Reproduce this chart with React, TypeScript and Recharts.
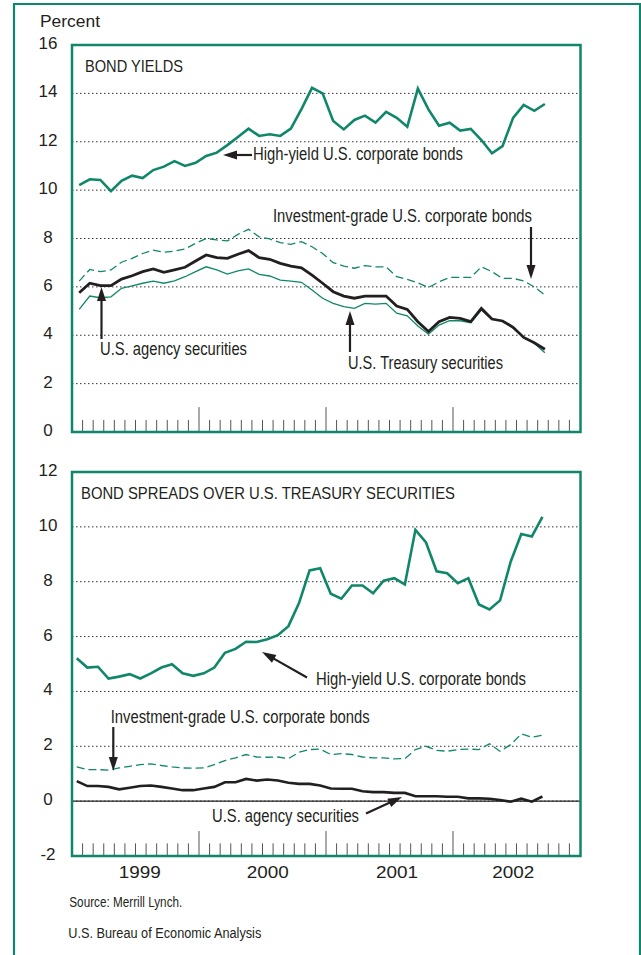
import React from "react";
import { LineChart, Line, XAxis, YAxis, CartesianGrid, ReferenceLine } from "recharts";

const GREEN = "#10876a";
const INK = "#231f20";
const FONT = "'Liberation Sans', Arial, Helvetica, sans-serif";

// Monthly observations, Jan 1999 .. Sep 2002
const monthNames = ["Jan", "Feb", "Mar", "Apr", "May", "Jun", "Jul", "Aug", "Sep", "Oct", "Nov", "Dec"];
const years = [1999, 2000, 2001, 2002];
const months: string[] = years.flatMap((y) => monthNames.map((m) => `${m} ${y}`)).slice(0, 45);

// Panel 1: bond yields (percent)
const hyYield = [10.21, 10.45, 10.42, 9.96, 10.38, 10.6, 10.5, 10.83, 10.97, 11.2, 11.0, 11.13, 11.41, 11.55, 11.86, 12.2, 12.54, 12.24, 12.31, 12.24, 12.54, 13.35, 14.23, 14.0, 12.86, 12.51, 12.9, 13.08, 12.79, 13.24, 12.99, 12.62, 14.2, 13.34, 12.66, 12.79, 12.46, 12.53, 12.07, 11.52, 11.82, 12.99, 13.52, 13.28, 13.56];
const igYield = [6.24, 6.72, 6.63, 6.7, 7.02, 7.18, 7.38, 7.52, 7.43, 7.48, 7.57, 7.8, 8.0, 7.94, 7.9, 8.17, 8.38, 8.07, 7.98, 7.83, 7.76, 7.87, 7.66, 7.38, 7.0, 6.86, 6.77, 6.88, 6.83, 6.83, 6.42, 6.31, 6.17, 5.97, 6.21, 6.39, 6.39, 6.39, 6.83, 6.63, 6.35, 6.35, 6.25, 6.0, 5.66];
const agencyYield = [5.76, 6.15, 6.05, 6.05, 6.32, 6.46, 6.63, 6.74, 6.6, 6.7, 6.81, 7.07, 7.32, 7.21, 7.18, 7.35, 7.5, 7.21, 7.14, 6.97, 6.86, 6.79, 6.49, 6.15, 5.8, 5.62, 5.53, 5.62, 5.62, 5.62, 5.21, 5.07, 4.56, 4.15, 4.56, 4.74, 4.7, 4.56, 5.11, 4.67, 4.59, 4.33, 3.91, 3.69, 3.42];
const treasuryYield = [5.07, 5.62, 5.55, 5.59, 5.94, 6.04, 6.15, 6.24, 6.15, 6.25, 6.42, 6.63, 6.83, 6.7, 6.53, 6.66, 6.74, 6.52, 6.45, 6.28, 6.24, 6.19, 5.87, 5.53, 5.32, 5.18, 5.11, 5.32, 5.29, 5.32, 4.91, 4.8, 4.38, 4.04, 4.42, 4.6, 4.6, 4.52, 5.04, 4.67, 4.59, 4.29, 3.91, 3.67, 3.28];

// Panel 2: spreads over Treasury securities (percentage points)
const hySpread = [5.21, 4.87, 4.9, 4.47, 4.54, 4.63, 4.47, 4.66, 4.87, 4.99, 4.66, 4.57, 4.66, 4.87, 5.41, 5.55, 5.81, 5.8, 5.9, 6.05, 6.38, 7.22, 8.41, 8.49, 7.56, 7.38, 7.86, 7.86, 7.58, 8.04, 8.13, 7.9, 9.89, 9.43, 8.38, 8.31, 7.95, 8.13, 7.17, 6.99, 7.32, 8.73, 9.74, 9.65, 10.36];
const igSpread = [1.25, 1.15, 1.15, 1.13, 1.21, 1.27, 1.33, 1.36, 1.3, 1.25, 1.21, 1.2, 1.21, 1.33, 1.48, 1.58, 1.7, 1.61, 1.6, 1.61, 1.55, 1.78, 1.88, 1.9, 1.7, 1.73, 1.7, 1.61, 1.58, 1.58, 1.54, 1.55, 1.88, 2.0, 1.85, 1.82, 1.88, 1.9, 1.88, 2.09, 1.82, 2.06, 2.45, 2.33, 2.4];
const agencySpread = [0.73, 0.55, 0.55, 0.52, 0.43, 0.49, 0.55, 0.57, 0.52, 0.46, 0.4, 0.4, 0.46, 0.52, 0.69, 0.69, 0.81, 0.75, 0.79, 0.75, 0.67, 0.63, 0.63, 0.57, 0.46, 0.45, 0.45, 0.36, 0.33, 0.33, 0.3, 0.3, 0.18, 0.18, 0.18, 0.16, 0.16, 0.1, 0.1, 0.09, 0.04, -0.02, 0.09, -0.02, 0.17];

const topTicks = [0, 2, 4, 6, 8, 10, 12, 14, 16];
const bottomTicks = [-2, 0, 2, 4, 6, 8, 10, 12];
const yearLabels = ["1999", "2000", "2001", "2002"];
const yearTickPos = [6.4, 18.5, 30.7, 41.7];
const monthTicks = Array.from({ length: 47 }, (_, k) => k + 1);
const majorTicks = [12, 24, 36];

const topData = months.map((m, i) => ({
  x: i + 0.68,
  m,
  hy: hyYield[i],
  ig: igYield[i],
  ag: agencyYield[i],
  ts: treasuryYield[i],
}));
const bottomData = months.map((m, i) => ({
  x: i + 0.45,
  m,
  hy: hySpread[i],
  ig: igSpread[i],
  ag: agencySpread[i],
}));

const yTick = (props: any) => (
  <text x={48} y={props.y} dy={4} textAnchor="middle" fontSize={17} fill={INK} fontFamily={FONT}>
    {props.payload.value}
  </text>
);

const yearTick = (props: any) => {
  const idx = yearTickPos.indexOf(props.payload.value);
  return (
    <text x={props.x} y={props.y + 22} textAnchor="middle" fontSize={17} fill={INK} fontFamily={FONT} textLength={42} lengthAdjust="spacingAndGlyphs">
      {yearLabels[idx]}
    </text>
  );
};

function tickMarks(base: number, minorLen: number, majorLen: number) {
  return monthTicks.map((m) => {
    const len = majorTicks.includes(m) ? majorLen : minorLen;
    return (
      <ReferenceLine
        key={`t${m}`}
        segment={[{ x: m, y: base }, { x: m, y: base + len }]}
        stroke="#555"
        strokeWidth={1}
        ifOverflow="visible"
      />
    );
  });
}

function Arrow({ x1, y1, x2, y2 }: { x1: number; y1: number; x2: number; y2: number }) {
  // from tail (x1,y1) to tip (x2,y2)
  const dx = x2 - x1;
  const dy = y2 - y1;
  const L = Math.hypot(dx, dy);
  const ux = dx / L;
  const uy = dy / L;
  const hl = 14;
  const hw = 4.5;
  const bx = x2 - ux * hl;
  const by = y2 - uy * hl;
  const px = -uy;
  const py = ux;
  return (
    <g>
      <line x1={x1} y1={y1} x2={bx + ux * 2} y2={by + uy * 2} stroke={INK} strokeWidth={2.2} />
      <polygon points={`${x2},${y2} ${bx + px * hw},${by + py * hw} ${bx - px * hw},${by - py * hw}`} fill={INK} />
    </g>
  );
}

function Label({ x, y, w, size = 17.5, children }: { x: number; y: number; w: number; size?: number; children: React.ReactNode }) {
  return (
    <text x={x} y={y} fontSize={size} fill={INK} fontFamily={FONT} textLength={w} lengthAdjust="spacingAndGlyphs">
      {children}
    </text>
  );
}

export default function App() {
  return (
    <div style={{ position: "absolute", left: 0, top: 0, width: 641, height: 955, background: "#fff", overflow: "hidden", fontFamily: FONT }}>
      <div style={{ position: "absolute", left: 0, top: 0 }}>
        <LineChart width={641} height={450} data={topData} margin={{ top: 45, right: 61, bottom: 18, left: 0 }}>
          <CartesianGrid vertical={false} stroke="#333" strokeDasharray="1.5 2.5" />
          <XAxis type="number" dataKey="x" domain={[0, 48]} hide />
          <YAxis type="number" domain={[0, 16]} ticks={topTicks} interval={0} width={72} axisLine={false} tickLine={false} tick={yTick} />
          {tickMarks(0, 0.5, 1.03)}
          <Line dataKey="ts" stroke={GREEN} strokeWidth={1.3} dot={false} isAnimationActive={false} />
          <Line dataKey="ig" stroke={GREEN} strokeWidth={1.3} strokeDasharray="8 4" dot={false} isAnimationActive={false} />
          <Line dataKey="ag" stroke={INK} strokeWidth={2.8} dot={false} isAnimationActive={false} />
          <Line dataKey="hy" stroke={GREEN} strokeWidth={2.6} dot={false} isAnimationActive={false} />
        </LineChart>
      </div>
      <div style={{ position: "absolute", left: 0, top: 440 }}>
        <LineChart width={641} height={460} data={bottomData} margin={{ top: 32, right: 61, bottom: 14, left: 0 }}>
          <CartesianGrid vertical={false} stroke="#333" strokeDasharray="1.5 2.5" />
          <XAxis type="number" dataKey="x" domain={[0, 48]} ticks={yearTickPos} interval={0} height={30} axisLine={false} tickLine={false} tickSize={0} tickMargin={0} tick={yearTick} />
          <YAxis type="number" domain={[-2, 12]} ticks={bottomTicks} interval={0} width={72} axisLine={false} tickLine={false} tick={yTick} />
          <ReferenceLine y={0} stroke={INK} strokeWidth={1.2} />
          {tickMarks(-2, 0.46, 0.91)}
          <Line dataKey="ig" stroke={GREEN} strokeWidth={1.3} strokeDasharray="8 4" dot={false} isAnimationActive={false} />
          <Line dataKey="ag" stroke={INK} strokeWidth={2.6} dot={false} isAnimationActive={false} />
          <Line dataKey="hy" stroke={GREEN} strokeWidth={2.6} dot={false} isAnimationActive={false} />
        </LineChart>
      </div>
      <svg width={641} height={955} style={{ position: "absolute", left: 0, top: 0, pointerEvents: "none" }}>
        {/* outer frame */}
        <path d="M14,960 L14,4 L640,4 L640,960" fill="none" stroke={GREEN} strokeWidth={2.2} />
        {/* panel frames */}
        <rect x={72} y={45} width={508.5} height={387} fill="none" stroke={GREEN} strokeWidth={2.5} />
        <rect x={72} y={472} width={508.5} height={384} fill="none" stroke={GREEN} strokeWidth={2.5} />

        <Label x={40} y={27} w={60} size={17}>Percent</Label>

        {/* top panel */}
        <Label x={85} y={71.5} w={98} size={17}>BOND YIELDS</Label>
        <Label x={253} y={159.5} w={210}>High-yield U.S. corporate bonds</Label>
        <Arrow x1={252} y1={155} x2={223} y2={155} />
        <Label x={273} y={222} w={259}>Investment-grade U.S. corporate bonds</Label>
        <Arrow x1={531} y1={227} x2={531} y2={279} />
        <Label x={100} y={355} w={147}>U.S. agency securities</Label>
        <Arrow x1={101.5} y1={339} x2={101.5} y2={287} />
        <Label x={348} y={369} w={155}>U.S. Treasury securities</Label>
        <Arrow x1={350} y1={352} x2={350} y2={311} />

        {/* bottom panel */}
        <Label x={81} y={499} w={374} size={17}>BOND SPREADS OVER U.S. TREASURY SECURITIES</Label>
        <Label x={316} y={685} w={210}>High-yield U.S. corporate bonds</Label>
        <Arrow x1={307} y1={677.5} x2={262} y2={652} />
        <Label x={110.7} y={722.5} w={259}>Investment-grade U.S. corporate bonds</Label>
        <Arrow x1={113.3} y1={727} x2={113.3} y2={771} />
        <Label x={212} y={821.7} w={147}>U.S. agency securities</Label>
        <Arrow x1={366} y1={813.5} x2={402} y2={797} />

        <Label x={69.3} y={906.5} w={113} size={14}>Source: Merrill Lynch.</Label>
        <Label x={68.3} y={938.3} w={193} size={14}>U.S. Bureau of Economic Analysis</Label>
      </svg>
    </div>
  );
}
